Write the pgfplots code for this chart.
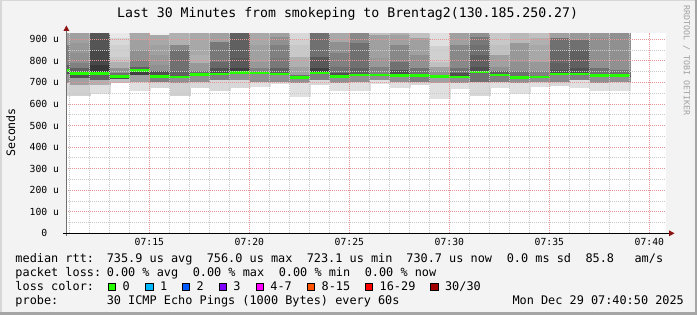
\documentclass[border=0pt]{standalone}
\usepackage{pgfplots}
\pgfplotsset{compat=1.18}
\usepackage{fontspec}
\setmonofont{DejaVu Sans Mono}
\definecolor{bgc}{HTML}{F3F3F3}
\definecolor{brdlight}{HTML}{D7D7D7}
\definecolor{brddark}{HTML}{A5A5A5}
\definecolor{wmark}{HTML}{A0A0A0}
\definecolor{medgreen}{HTML}{26FF00}
\definecolor{arrowred}{HTML}{8E1414}
\definecolor{axisgray}{HTML}{707070}
\definecolor{mgrid}{HTML}{E49696}
\definecolor{ngrid}{HTML}{C8C8C8}
\definecolor{lc0}{HTML}{26FF00}
\definecolor{lc1}{HTML}{00B8FF}
\definecolor{lc2}{HTML}{0059FF}
\definecolor{lc3}{HTML}{7E00FF}
\definecolor{lc4}{HTML}{FF00FF}
\definecolor{lc8}{HTML}{FF5500}
\definecolor{lc16}{HTML}{FF0000}
\definecolor{lc30}{HTML}{A00000}
\newcommand\fs[1]{\fontsize{#1}{#1}\selectfont\ttfamily}
% one smoke band: x0, x1, upper, lower, grey level (0-255)
\newcommand\seg[5]{\addplot[draw={rgb,255:red,#5;green,#5;blue,#5}, line width=0.2pt, fill={rgb,255:red,#5;green,#5;blue,#5}] coordinates {(#1,#3) (#2,#3) (#2,#4) (#1,#4)} -- cycle;}
\begin{document}
\begin{tikzpicture}
\useasboundingbox (0pt,0pt) rectangle (697pt,315pt);
\fill[bgc] (0pt,0pt) rectangle (697pt,315pt);
\draw[line width=1.5pt, draw=brdlight] (0.75pt,0pt) -- (0.75pt,314.25pt) -- (697pt,314.25pt);
\draw[line width=2.5pt, draw=brddark] (0pt,1.25pt) -- (695.75pt,1.25pt) -- (695.75pt,315pt);
\begin{axis}[
  at={(66pt,81.7pt)}, anchor=south west,
  scale only axis, width=600pt, height=200.3pt,
  xmin=10.8333, xmax=40.8333, ymin=0, ymax=929,
  axis line style={draw=none},
  axis background/.style={fill=white},
  axis on top,
  xtick={15,20,25,30,35,40},
  xticklabels={07:15,07:20,07:25,07:30,07:35,07:40},
  minor xtick={11,12,13,14,16,17,18,19,21,22,23,24,26,27,28,29,31,32,33,34,36,37,38,39},
  ytick={0,100,200,300,400,500,600,700,800,900},
  yticklabels={0\phantom{\ u},100 u,200 u,300 u,400 u,500 u,600 u,700 u,800 u,900 u},
  minor ytick={50,150,250,350,450,550,650,750,850},
  grid=both,
  major grid style={draw=mgrid, line width=0.8pt, dash pattern=on 1pt off 1pt},
  minor grid style={draw=ngrid, line width=0.8pt, dash pattern=on 1pt off 1pt},
  major tick length=0pt, minor tick length=0pt,
  tick style={draw=none},
  ticklabel style={font=\fs{9.75}, text=black},
  xticklabel style={anchor=base, inner sep=0pt, yshift=-12.4pt},
  yticklabel style={anchor=east, inner sep=0pt, xshift=-6.7pt},
]
% bar 0 (partial)
\seg{10.8333}{11.03}{929}{873}{160}\seg{10.8333}{11.03}{873}{781}{128}\seg{10.8333}{11.03}{781}{756}{96}\seg{10.8333}{11.03}{756}{740}{80}\seg{10.8333}{11.03}{740}{696}{144}\seg{10.8333}{11.03}{696}{641}{216}
% bar 1
\seg{11.03}{12.03}{929}{881}{160}\seg{11.03}{12.03}{881}{835}{152}\seg{11.03}{12.03}{835}{788}{144}\seg{11.03}{12.03}{788}{765}{128}\seg{11.03}{12.03}{765}{740}{96}\seg{11.03}{12.03}{740}{719}{80}\seg{11.03}{12.03}{719}{688}{160}\seg{11.03}{12.03}{688}{641}{208}
% bar 2
\seg{12.03}{13.03}{929}{850}{85}\seg{12.03}{13.03}{850}{781}{72}\seg{12.03}{13.03}{781}{734}{56}\seg{12.03}{13.03}{734}{711}{96}\seg{12.03}{13.03}{711}{688}{176}\seg{12.03}{13.03}{688}{649}{224}
% bar 3
\seg{13.03}{14.03}{929}{904}{232}\seg{13.03}{14.03}{904}{873}{216}\seg{13.03}{14.03}{873}{819}{208}\seg{13.03}{14.03}{819}{796}{200}\seg{13.03}{14.03}{796}{765}{176}\seg{13.03}{14.03}{765}{742}{144}\seg{13.03}{14.03}{742}{725}{112}\seg{13.03}{14.03}{725}{716}{80}\seg{13.03}{14.03}{716}{703}{192}
% bar 4
\seg{14.03}{15.03}{929}{897}{168}\seg{14.03}{15.03}{897}{850}{160}\seg{14.03}{15.03}{850}{804}{144}\seg{14.03}{15.03}{804}{773}{128}\seg{14.03}{15.03}{773}{753}{96}\seg{14.03}{15.03}{753}{734}{64}\seg{14.03}{15.03}{734}{703}{160}\seg{14.03}{15.03}{703}{665}{224}
% bar 5
\seg{15.03}{16.03}{929}{920}{240}\seg{15.03}{16.03}{920}{873}{168}\seg{15.03}{16.03}{873}{827}{160}\seg{15.03}{16.03}{827}{781}{152}\seg{15.03}{16.03}{781}{750}{144}\seg{15.03}{16.03}{750}{727}{80}\seg{15.03}{16.03}{727}{720}{64}\seg{15.03}{16.03}{720}{703}{128}\seg{15.03}{16.03}{703}{676}{216}
% bar 6
\seg{16.03}{17.03}{929}{873}{176}\seg{16.03}{17.03}{873}{850}{136}\seg{16.03}{17.03}{850}{750}{112}\seg{16.03}{17.03}{750}{725}{96}\seg{16.03}{17.03}{725}{720}{80}\seg{16.03}{17.03}{720}{696}{144}\seg{16.03}{17.03}{696}{641}{208}
% bar 7
\seg{17.03}{18.03}{929}{827}{168}\seg{17.03}{18.03}{827}{788}{176}\seg{17.03}{18.03}{788}{750}{152}\seg{17.03}{18.03}{750}{736}{112}\seg{17.03}{18.03}{736}{730}{96}\seg{17.03}{18.03}{730}{703}{144}\seg{17.03}{18.03}{703}{680}{216}
% bar 8
\seg{18.03}{19.03}{929}{889}{160}\seg{18.03}{19.03}{889}{796}{120}\seg{18.03}{19.03}{796}{765}{104}\seg{18.03}{19.03}{765}{734}{80}\seg{18.03}{19.03}{734}{711}{128}\seg{18.03}{19.03}{711}{665}{216}
% bar 9
\seg{19.03}{20.03}{929}{811}{96}\seg{19.03}{20.03}{811}{765}{88}\seg{19.03}{20.03}{765}{746}{64}\seg{19.03}{20.03}{746}{739}{80}\seg{19.03}{20.03}{739}{711}{144}\seg{19.03}{20.03}{711}{680}{216}
% bar 10
\seg{20.03}{21.03}{929}{873}{168}\seg{20.03}{21.03}{873}{796}{160}\seg{20.03}{21.03}{796}{765}{152}\seg{20.03}{21.03}{765}{743}{128}\seg{20.03}{21.03}{743}{739}{96}\seg{20.03}{21.03}{739}{703}{144}\seg{20.03}{21.03}{703}{685}{224}
% bar 11
\seg{21.03}{22.03}{929}{912}{160}\seg{21.03}{22.03}{912}{873}{144}\seg{21.03}{22.03}{873}{811}{128}\seg{21.03}{22.03}{811}{765}{120}\seg{21.03}{22.03}{765}{739}{96}\seg{21.03}{22.03}{739}{734}{80}\seg{21.03}{22.03}{734}{703}{144}\seg{21.03}{22.03}{703}{695}{224}
% bar 12
\seg{22.03}{23.03}{929}{897}{216}\seg{22.03}{23.03}{897}{873}{208}\seg{22.03}{23.03}{873}{819}{200}\seg{22.03}{23.03}{819}{773}{176}\seg{22.03}{23.03}{773}{734}{160}\seg{22.03}{23.03}{734}{723}{112}\seg{22.03}{23.03}{723}{716}{80}\seg{22.03}{23.03}{716}{696}{144}\seg{22.03}{23.03}{696}{638}{224}
% bar 13
\seg{23.03}{24.03}{929}{819}{112}\seg{23.03}{24.03}{819}{765}{88}\seg{23.03}{24.03}{765}{739}{64}\seg{23.03}{24.03}{739}{711}{128}\seg{23.03}{24.03}{711}{691}{216}
% bar 14
\seg{24.03}{25.03}{929}{889}{168}\seg{24.03}{25.03}{889}{835}{144}\seg{24.03}{25.03}{835}{773}{128}\seg{24.03}{25.03}{773}{742}{112}\seg{24.03}{25.03}{742}{720}{80}\seg{24.03}{25.03}{720}{696}{144}\seg{24.03}{25.03}{696}{665}{224}
% bar 15
\seg{25.03}{26.03}{929}{881}{136}\seg{25.03}{26.03}{881}{765}{112}\seg{25.03}{26.03}{765}{734}{96}\seg{25.03}{26.03}{734}{730}{80}\seg{25.03}{26.03}{730}{703}{144}\seg{25.03}{26.03}{703}{665}{224}
% bar 16
\seg{26.03}{27.03}{929}{920}{192}\seg{26.03}{27.03}{920}{811}{160}\seg{26.03}{27.03}{811}{773}{152}\seg{26.03}{27.03}{773}{734}{128}\seg{26.03}{27.03}{734}{730}{96}\seg{26.03}{27.03}{730}{711}{144}\seg{26.03}{27.03}{711}{696}{224}
% bar 17
\seg{27.03}{28.03}{929}{920}{176}\seg{27.03}{28.03}{920}{873}{160}\seg{27.03}{28.03}{873}{796}{136}\seg{27.03}{28.03}{796}{757}{112}\seg{27.03}{28.03}{757}{727}{80}\seg{27.03}{28.03}{727}{703}{144}\seg{27.03}{28.03}{703}{676}{224}
% bar 18
\seg{28.03}{29.03}{929}{904}{192}\seg{28.03}{29.03}{904}{827}{160}\seg{28.03}{29.03}{827}{765}{144}\seg{28.03}{29.03}{765}{733}{112}\seg{28.03}{29.03}{733}{727}{80}\seg{28.03}{29.03}{727}{703}{128}\seg{28.03}{29.03}{703}{691}{216}
% bar 19
\seg{29.03}{30.03}{929}{866}{224}\seg{29.03}{30.03}{866}{796}{208}\seg{29.03}{30.03}{796}{773}{192}\seg{29.03}{30.03}{773}{750}{160}\seg{29.03}{30.03}{750}{727}{144}\seg{29.03}{30.03}{727}{720}{96}\seg{29.03}{30.03}{720}{696}{160}\seg{29.03}{30.03}{696}{629}{224}
% bar 20
\seg{30.03}{31.03}{929}{873}{160}\seg{30.03}{31.03}{873}{765}{136}\seg{30.03}{31.03}{765}{742}{112}\seg{30.03}{31.03}{742}{720}{80}\seg{30.03}{31.03}{720}{696}{144}\seg{30.03}{31.03}{696}{672}{224}
% bar 21
\seg{31.03}{32.03}{929}{912}{144}\seg{31.03}{32.03}{912}{873}{120}\seg{31.03}{32.03}{873}{827}{112}\seg{31.03}{32.03}{827}{773}{96}\seg{31.03}{32.03}{773}{748}{80}\seg{31.03}{32.03}{748}{743}{64}\seg{31.03}{32.03}{743}{703}{112}\seg{31.03}{32.03}{703}{641}{216}
% bar 22
\seg{32.03}{33.03}{929}{873}{200}\seg{32.03}{33.03}{873}{827}{192}\seg{32.03}{33.03}{827}{773}{160}\seg{32.03}{33.03}{773}{750}{144}\seg{32.03}{33.03}{750}{734}{96}\seg{32.03}{33.03}{734}{730}{80}\seg{32.03}{33.03}{730}{703}{128}\seg{32.03}{33.03}{703}{677}{224}
% bar 23
\seg{33.03}{34.03}{929}{881}{184}\seg{33.03}{34.03}{881}{796}{152}\seg{33.03}{34.03}{796}{750}{144}\seg{33.03}{34.03}{750}{723}{112}\seg{33.03}{34.03}{723}{716}{80}\seg{33.03}{34.03}{716}{696}{144}\seg{33.03}{34.03}{696}{649}{224}
% bar 24
\seg{34.03}{35.03}{929}{904}{192}\seg{34.03}{35.03}{904}{873}{176}\seg{34.03}{35.03}{873}{796}{168}\seg{34.03}{35.03}{796}{750}{152}\seg{34.03}{35.03}{750}{725}{128}\seg{34.03}{35.03}{725}{720}{80}\seg{34.03}{35.03}{720}{700}{144}\seg{34.03}{35.03}{700}{685}{224}
% bar 25
\seg{35.03}{36.03}{929}{904}{160}\seg{35.03}{36.03}{904}{850}{112}\seg{35.03}{36.03}{850}{788}{104}\seg{35.03}{36.03}{788}{757}{96}\seg{35.03}{36.03}{757}{734}{80}\seg{35.03}{36.03}{734}{703}{136}\seg{35.03}{36.03}{703}{688}{216}
% bar 26
\seg{36.03}{37.03}{929}{897}{152}\seg{36.03}{37.03}{897}{850}{112}\seg{36.03}{37.03}{850}{765}{96}\seg{36.03}{37.03}{765}{734}{80}\seg{36.03}{37.03}{734}{711}{128}\seg{36.03}{37.03}{711}{680}{224}
% bar 27
\seg{37.03}{38.03}{929}{904}{152}\seg{37.03}{38.03}{904}{765}{144}\seg{37.03}{38.03}{765}{732}{112}\seg{37.03}{38.03}{732}{726}{80}\seg{37.03}{38.03}{726}{696}{144}\seg{37.03}{38.03}{696}{665}{224}
% bar 28
\seg{38.03}{39.03}{929}{757}{144}\seg{38.03}{39.03}{757}{730}{112}\seg{38.03}{39.03}{730}{726}{80}\seg{38.03}{39.03}{726}{700}{144}\seg{38.03}{39.03}{700}{665}{224}
% median rtt
\addplot[jump mark left, line width=2.8pt, color=medgreen] coordinates {
(10.8333,756) (11.03,740.3) (12.03,741.8) (13.03,728.8) (14.03,753.5) (15.03,727.3)
(16.03,725) (17.03,736.5) (18.03,738.9) (19.03,746.6) (20.03,743.5) (21.03,738.9)
(22.03,723.1) (23.03,743.5) (24.03,727.3) (25.03,734.2) (26.03,734.2) (27.03,733.4)
(28.03,733.4) (29.03,727.3) (30.03,725) (31.03,748.1) (32.03,734.2) (33.03,723.5)
(34.03,725) (35.03,738.9) (36.03,738.9) (37.03,731.9) (38.03,730.7) (39.03,730.7)};
\end{axis}
% axis lines and arrows
\draw[draw=axisgray, line width=1pt] (66.4pt,79pt) -- (66.4pt,284.5pt);
\draw[draw=black, line width=1pt] (62.7pt,81.7pt) -- (669.5pt,81.7pt);
\fill[fill=arrowred] (669pt,78.7pt) -- (674.5pt,81.7pt) -- (669pt,84.7pt) -- cycle;
\fill[fill=arrowred] (63.4pt,284pt) -- (66.4pt,289.5pt) -- (69.4pt,284pt) -- cycle;
% title, labels, watermark
\node[anchor=base, inner sep=0pt, font=\fs{13.2}] at (347.6pt,297pt) {Last 30 Minutes from smokeping to Brentag2(130.185.250.27)};
\node[rotate=90, inner sep=0pt, font=\fs{11.6}] at (10.8pt,182.5pt) {Seconds};
\node[rotate=-90, anchor=west, inner sep=0pt, font=\fs{8.3}, text=wmark] at (686.5pt,310pt) {RRDTOOL / TOBI OETIKER};
% legend
\begin{scope}[every node/.style={anchor=base west, inner sep=0pt, font=\fs{11.86}}]
\node at (15.3pt,52pt) {median rtt:};
\node at (106.6pt,52pt) {735.9 us avg};
\node at (206.6pt,52pt) {756.0 us max};
\node at (306.6pt,52pt) {723.1 us min};
\node at (406.2pt,52pt) {730.7 us now};
\node at (506.6pt,52pt) {0.0 ms sd};
\node at (585.3pt,52pt) {85.8};
\node at (634.4pt,52pt) {am/s};
\node at (15.3pt,38.3pt) {packet loss:};
\node at (106.6pt,38.3pt) {0.00 \% avg};
\node at (192.6pt,38.3pt) {0.00 \% max};
\node at (278.6pt,38.3pt) {0.00 \% min};
\node at (364.6pt,38.3pt) {0.00 \% now};
\node at (15.3pt,24.5pt) {loss color:};
\node at (122.5pt,24.5pt) {0};
\node at (159.9pt,24.5pt) {1};
\node at (196.5pt,24.5pt) {2};
\node at (233.2pt,24.5pt) {3};
\node at (270.2pt,24.5pt) {4-7};
\node at (321.5pt,24.5pt) {8-15};
\node at (379.5pt,24.5pt) {16-29};
\node at (444.9pt,24.5pt) {30/30};
\node at (15.3pt,10.3pt) {probe:};
\node at (106.6pt,10.3pt) {30 ICMP Echo Pings (1000 Bytes) every 60s};
\node at (512.3pt,10.3pt) {Mon Dec 29 07:40:50 2025};
\end{scope}
\foreach \xx/\cc in {108.3/lc0,145.7/lc1,182.3/lc2,219/lc3,256/lc4,307.3/lc8,365.3/lc16,430.7/lc30}
  \filldraw[fill=\cc, draw=black, line width=0.9pt] (\xx pt,24.3pt) rectangle ++(7.6pt,7.6pt);
\end{tikzpicture}
\end{document}
